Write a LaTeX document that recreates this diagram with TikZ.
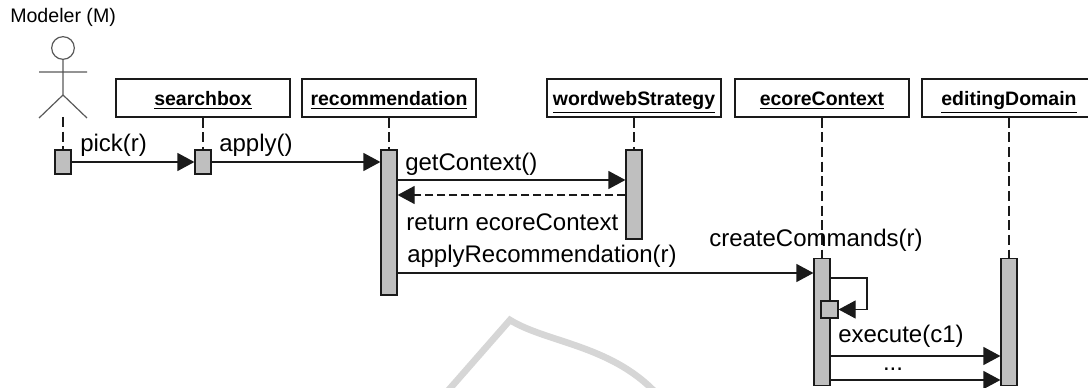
\documentclass[tikz,border=0pt]{standalone}
\usepackage{fontspec}
\setmainfont{Liberation Sans}
\usepackage{xcolor}
\usepackage{tikz}
\usetikzlibrary{positioning, arrows.meta}

\definecolor{barfill}{HTML}{BFBFBF}
\definecolor{linedark}{HTML}{1A1A1A}
\definecolor{actorgray}{HTML}{595959}
\definecolor{markgray}{HTML}{D6D6D6}

\begin{document}
\begin{tikzpicture}[
    x=0.75pt, y=-0.75pt,
    % Define specific styles to match the drawing
    object/.style={
        rectangle,
        draw=linedark,
        line width=0.9pt,
        fill=white,
        minimum width=130.5pt,
        minimum height=28.5pt,
        inner sep=0pt,
        text height=14pt,
        text depth=2pt,
        font=\fontsize{14.6}{18}\selectfont\bfseries
    },
    bar/.style={
        rectangle,
        draw=linedark,
        line width=0.9pt,
        fill=barfill,
        minimum width=12pt,
        inner sep=0pt
    },
    lifeline/.style={
        draw=linedark,
        line width=0.8pt,
        dash pattern=on 7.5pt off 3.5pt
    },
    actor/.style={
        draw=actorgray,
        line width=0.9pt
    },
    msg/.style={
        draw=linedark,
        line width=0.9pt,
        -{Triangle[length=12.75pt,width=13.5pt]}
    },
    label_msg/.style={
        anchor=west,
        inner sep=0pt,
        font=\fontsize{18}{21}\selectfont
    }
]
    \clip (0,0) rectangle (1088,388);

    % --- Background mark ---
    \draw[markgray, line width=5pt, miter limit=10] (446,393) -- (510,320)
        .. controls (545,342) and (610,345) .. (655,392);

    % --- Actor ---
    \node[anchor=west, inner sep=0pt, font=\fontsize{14.7}{18}\selectfont] (modeler) at (10,17) {Modeler (M)};
    \node[actor, circle, minimum size=17pt, inner sep=0pt] (head) at (63,48) {};
    \coordinate (hip) at (63,95);
    \coordinate (armL) at (39,72);
    \coordinate (armR) at (87,72);
    \coordinate (footL) at (39,118);
    \coordinate (footR) at (87,118);
    \coordinate (foot) at (63,117);
    \draw[actor] (head) -- (hip) (armL) -- (armR) (footL) -- (hip) -- (footR);

    % --- Objects ---
    \node[object] (searchbox) at (203,98) {\underline{searchbox}};
    \node[object] (recommendation) at (389,98) {\underline{recommendation}};
    \node[object] (wordweb) at (634,98) {\underline{wordwebStrategy}};
    \node[object] (ecore) at (822,98) {\underline{ecoreContext}};
    \node[object] (editing) at (1009,98) {\underline{editingDomain}};

    % --- Activation bars ---
    \node[bar, minimum height=18pt] (barM) at (63,162) {};
    \node[bar, minimum height=18pt] (barS) at (203,162) {};
    \node[bar, minimum height=108.75pt] (barR) at (389,222.5) {};
    \node[bar, minimum height=66.75pt] (barW) at (634,194.5) {};
    \node[bar, minimum height=95.25pt] (barE) at (822,322) {};
    \node[bar, minimum height=95.25pt] (barD) at (1009,322) {};

    % --- Lifelines ---
    \draw[lifeline] (foot) -- (barM.north -| foot);
    \draw[lifeline] (searchbox) -- (barS);
    \draw[lifeline] (recommendation) -- (barR);
    \draw[lifeline] (wordweb) -- (barW);
    \draw[lifeline] (ecore) -- (barE);
    \draw[lifeline] (editing) -- (barD);

    % --- Messages and labels ---
    \draw[msg] (barM.east) -- (barS.west);
    \draw[msg] (barS.east) -- (barR.west |- barS.east);
    \node[label_msg] (pick) at (80,145) {pick(r)};
    \node[label_msg] (apply) at (219,145) {apply()};

    \coordinate (getA) at (barR.east |- 0,180);
    \coordinate (retA) at (barR.east |- 0,195);
    \draw[msg] (getA) -- (getA -| barW.west);
    \draw[msg, dash pattern=on 6pt off 3pt] (retA -| barW.west) -- (retA);
    \node[label_msg] (getlabel) at (405,164) {getContext()};
    \node[label_msg] (retlabel) at (406,222) {return ecoreContext};

    \coordinate (applyA) at (barR.east |- 0,273);
    \draw[msg] (applyA) -- (applyA -| barE.west);
    \node[label_msg] (applylabel) at (407,256) {applyRecommendation(r)};
    \node[label_msg] (createlabel) at (709,240) {createCommands(r)};

    % --- Self call ---
    \node[bar, minimum width=12.75pt, minimum height=12.75pt] (small) at (829.5,309.5) {};
    \coordinate (selfA) at (barE.east |- 0,278);
    \coordinate (selfB) at (867,278);
    \draw[msg] (selfA) -- (selfB) -- (selfB |- small.east) -- (small.east);

    % --- Calls to the domain ---
    \coordinate (execA) at (barE.east |- 0,356);
    \coordinate (execB) at (barE.east |- 0,380);
    \draw[msg] (execA) -- (execA -| barD.west);
    \draw[msg] (execB) -- (execB -| barD.west);
    \node[label_msg] (execlabel) at (838,336) {execute(c1)};
    \node[inner sep=0pt, font=\fontsize{18}{21}\selectfont] (dots) at (893,369) {...};
\end{tikzpicture}
\end{document}
